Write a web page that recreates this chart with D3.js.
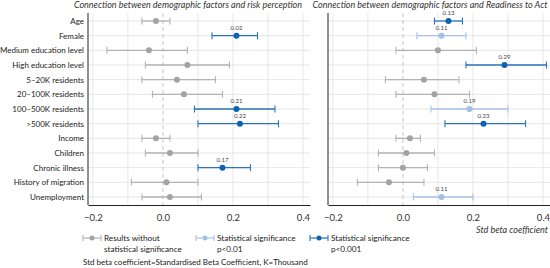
<!DOCTYPE html>
<html>
<head>
<meta charset="utf-8">
<script src="https://cdn.jsdelivr.net/npm/d3@7"></script>
<style>
  body { margin: 0; background: #fff; }
  text { font-family: Lato, "Open Sans", sans-serif; }
  .grid line { stroke: #e6e6e6; stroke-width: 1; }
  .axis path, .axis line { stroke: #222; }
  .axis text { font-size: 9.5px; fill: #333; }
  .axis.names text { font-size: 8px; fill: #222; }
</style>
</head>
<body>
<script>
// categories (top to bottom)
const factors = ["Age", "Female", "Medium education level", "High education level",
  "5\u201320K residents", "20\u2013100K residents", "100\u2013500K residents", ">500K residents",
  "Income", "Children", "Chronic illness", "History of migration", "Unemployment"];

// risk perception: estimate, lower, upper, significance (0 none, 1 p<0.01, 2 p<0.001), label
const riskEst = [-0.02, 0.21, -0.04, 0.07, 0.04, 0.06, 0.21, 0.22, -0.02, 0.02, 0.17, 0.01, 0.02];
const riskLo = [-0.06, 0.14, -0.16, -0.05, -0.06, -0.03, 0.09, 0.10, -0.06, -0.05, 0.10, -0.09, -0.06];
const riskHi = [0.02, 0.27, 0.07, 0.19, 0.15, 0.17, 0.32, 0.33, 0.02, 0.10, 0.25, 0.10, 0.11];
const riskSig = [0, 2, 0, 0, 0, 0, 2, 2, 0, 0, 2, 0, 0];
const riskLbl = ["", "0.02", "", "", "", "", "0.21", "0.22", "", "", "0.17", "", ""];

// readiness to act
const actEst = [0.13, 0.11, 0.10, 0.29, 0.06, 0.09, 0.19, 0.23, 0.02, 0.01, 0.00, -0.04, 0.11];
const actLo = [0.09, 0.04, -0.02, 0.18, -0.05, -0.02, 0.08, 0.12, -0.02, -0.07, -0.07, -0.13, 0.03];
const actHi = [0.17, 0.18, 0.21, 0.41, 0.16, 0.19, 0.30, 0.35, 0.05, 0.09, 0.07, 0.06, 0.20];
const actSig = [2, 1, 0, 2, 0, 0, 1, 2, 0, 0, 0, 0, 1];
const actLbl = ["0.13", "0.11", "", "0.29", "", "", "0.19", "0.23", "", "", "", "", "0.11"];

const xTicks = [-0.2, 0.0, 0.2, 0.4];
const gridTicks = [-0.2, -0.1, 0.1, 0.2, 0.3, 0.4];
const legendItems = [["Results without", "statistical significance"],
  ["Statistical significance", "p<0.01"], ["Statistical significance", "p<0.001"]];

const width = 550, height = 268;
const plotTop = 13, plotBottom = 205;
const lineCol = ["#b3b3b3", "#a9c3ea", "#2a75bd"];
const dotCol = ["#a3a3a3", "#a3bfe8", "#0d62b3"];

const svg = d3.select("body").append("svg")
  .attr("width", width).attr("height", height);

const y = d3.scalePoint().domain(factors).range([21, 197]);

function panel(x0, x1, titleX, title, est, lo, hi, sig, lbl, showNames) {
  const x = d3.scaleLinear().domain([-0.214, 0.42]).range([x0, x1]);
  const g = svg.append("g");

  // vertical grid
  g.append("g").attr("class", "grid").selectAll("line")
    .data(gridTicks).join("line")
    .attr("x1", d => x(d)).attr("x2", d => x(d))
    .attr("y1", plotTop).attr("y2", plotBottom);
  // horizontal grid
  g.append("g").attr("class", "grid").selectAll("line")
    .data(factors).join("line")
    .attr("x1", x0).attr("x2", x1)
    .attr("y1", d => y(d)).attr("y2", d => y(d));
  // zero line
  g.append("line")
    .attr("x1", x(0)).attr("x2", x(0)).attr("y1", plotTop).attr("y2", plotBottom)
    .attr("stroke", "#c4c4c4").attr("stroke-dasharray", "4,3");

  // axes
  g.append("g").attr("class", "axis")
    .attr("transform", "translate(0," + plotBottom + ")")
    .call(d3.axisBottom(x).tickValues(xTicks).tickSize(0).tickPadding(9)
      .tickFormat(d3.format(".1f")));
  g.append("g").attr("class", "axis names")
    .attr("transform", "translate(" + x0 + ",0)")
    .call(d3.axisLeft(y).tickSize(0).tickPadding(4).tickFormat(d => showNames ? d : ""))
    .call(a => a.select(".domain").attr("d", "M0," + plotTop + "V" + plotBottom));

  g.append("text")
    .attr("x", titleX).attr("y", 7.5)
    .attr("text-anchor", "middle")
    .style("font-size", "9px").style("font-style", "italic").style("fill", "#333")
    .text(title);

  const rows = factors.map((f, i) => ({f, e: est[i], l: lo[i], h: hi[i], s: sig[i], t: lbl[i]}));
  const r = g.append("g").selectAll("g").data(rows).join("g");
  r.append("line")
    .attr("x1", d => x(d.l)).attr("x2", d => x(d.h))
    .attr("y1", d => y(d.f)).attr("y2", d => y(d.f))
    .attr("stroke", d => lineCol[d.s]).attr("stroke-width", 1.3);
  [d => d.l, d => d.h].forEach(acc => {
    r.append("line")
      .attr("x1", d => x(acc(d))).attr("x2", d => x(acc(d)))
      .attr("y1", d => y(d.f) - 3.5).attr("y2", d => y(d.f) + 3.5)
      .attr("stroke", d => lineCol[d.s]).attr("stroke-width", 1.1);
  });
  r.append("circle")
    .attr("cx", d => x(d.e)).attr("cy", d => y(d.f)).attr("r", 3)
    .attr("fill", d => dotCol[d.s]);
  r.append("text")
    .attr("x", d => x(d.e)).attr("y", d => y(d.f) - 6)
    .attr("text-anchor", "middle")
    .style("font-size", "6px").style("fill", "#444")
    .text(d => d.t);
}

panel(88, 310, 188, "Connection between demographic factors and risk perception",
  riskEst, riskLo, riskHi, riskSig, riskLbl, true);
panel(328, 550, 430, "Connection between demographic factors and Readiness to Act",
  actEst, actLo, actHi, actSig, actLbl, false);

svg.append("text")
  .attr("x", 548).attr("y", 233).attr("text-anchor", "end")
  .style("font-size", "9px").style("font-style", "italic").style("fill", "#333")
  .text("Std beta coefficient");

// legend
const lx = [83, 196, 310];
const lg = svg.append("g").selectAll("g").data(legendItems).join("g")
  .attr("transform", (d, i) => "translate(" + lx[i] + ",238)");
lg.append("line").attr("x1", 0).attr("x2", 18).attr("y1", 0).attr("y2", 0)
  .attr("stroke", (d, i) => lineCol[i]).attr("stroke-width", 1.2);
[0, 18].forEach(v => lg.append("line").attr("x1", v).attr("x2", v).attr("y1", -3).attr("y2", 3)
  .attr("stroke", (d, i) => lineCol[i]).attr("stroke-width", 1.1));
lg.append("circle").attr("cx", 9).attr("cy", 0).attr("r", 2.5).attr("fill", (d, i) => dotCol[i]);
lg.append("text").attr("x", 21).attr("y", 3)
  .style("font-size", "8.2px").style("fill", "#222").text(d => d[0]);
lg.append("text").attr("x", 21).attr("y", 13.5)
  .style("font-size", "8.2px").style("fill", "#222").text(d => d[1]);

svg.append("text")
  .attr("x", 83).attr("y", 265)
  .style("font-size", "8px").style("fill", "#222")
  .text("Std beta coefficient=Standardised Beta Coefficient, K=Thousand");
</script>
</body>
</html>
